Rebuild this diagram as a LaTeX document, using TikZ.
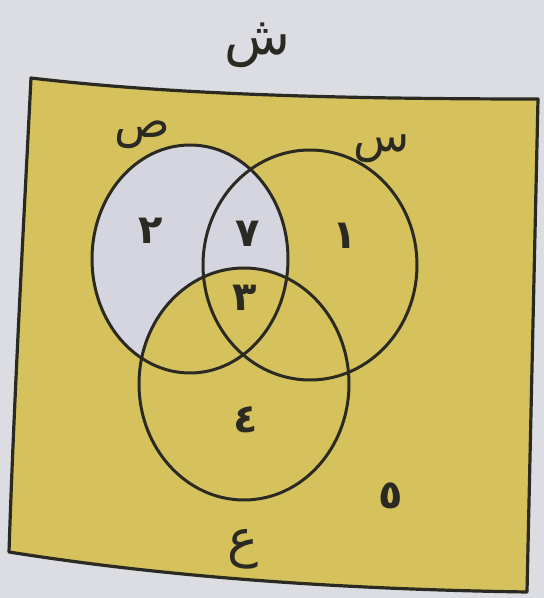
\documentclass[tikz,border=0pt]{standalone}
\usepackage{fontspec}
\newfontfamily\arabicfont[Script=Arabic]{DejaVu Sans}
\TeXXeTstate=1
\usetikzlibrary{shapes.geometric,backgrounds}
\definecolor{vnPaper}{HTML}{DCDDE3}
\definecolor{vnYellow}{HTML}{D6C25C}
\definecolor{vnShade}{HTML}{D4D5DE}
\definecolor{vnInk}{HTML}{2B2A22}
\tikzset{
  % universal set frame
  uframe/.style={draw=vnInk,line width=3.2pt,fill=vnYellow,line join=round},
  % set outline
  setc/.style={ellipse,draw=vnInk,line width=3pt,inner sep=0pt,
    minimum width=208pt,minimum height=230pt},
  % set name
  setname/.style={font=\arabicfont\fontsize{46}{50}\selectfont,text=vnInk,inner sep=0pt},
  % element
  elem/.style={font=\arabicfont\bfseries\fontsize{40}{44}\selectfont,text=vnInk,inner sep=0pt},
}
\begin{document}
\begin{tikzpicture}[x=1pt,y=1pt]
  \fill[vnPaper] (0,0) rectangle (544,598);
  \useasboundingbox (0,0) rectangle (544,598);

  % frame of sh
  \draw[uframe] (31,520) .. controls (150,506) and (300,499) .. (538,499)
    -- (527,6) .. controls (330,9) and (160,22) .. (9,46)
    .. controls (14,200) and (24,380) .. cycle;

  % sets
  \node[setc,draw=none,fill=vnShade,minimum width=196pt,minimum height=228pt] (sadfill) at (190,339) {};
  \node[setc,draw=none,fill=vnYellow,minimum width=210pt,minimum height=232pt] (ainfill) at (244,214) {};
  \node[setc,minimum width=196pt,minimum height=228pt] (sad) at (190,339) {};
  \node[setc,minimum width=214pt,minimum height=230pt] (sin) at (310,333) {};
  \node[setc,minimum width=210pt,minimum height=232pt] (ain) at (244,214) {};

  % names
  \node[setname,font=\arabicfont\fontsize{54}{58}\selectfont] (shlbl) at (257,553) {\beginR ش\endR};
  \node[setname] (sadlbl) at (142,463) {\beginR ص\endR};
  \node[setname] (sinlbl) at (382,449) {\beginR س\endR};
  \node[setname,font=\arabicfont\fontsize{52}{56}\selectfont] (ainlbl) at (243,49) {\beginR ع\endR};

  % elements
  \node[elem] (e2) at (151,367) {٢};
  \node[elem] (e7) at (248,364) {٧};
  \node[elem] (e1) at (345,362) {١};
  \node[elem] (e3) at (245,300) {٣};
  \node[elem] (e4) at (246,178) {٤};
  \node[elem] (e5) at (391,102) {٥};
\end{tikzpicture}
\end{document}
